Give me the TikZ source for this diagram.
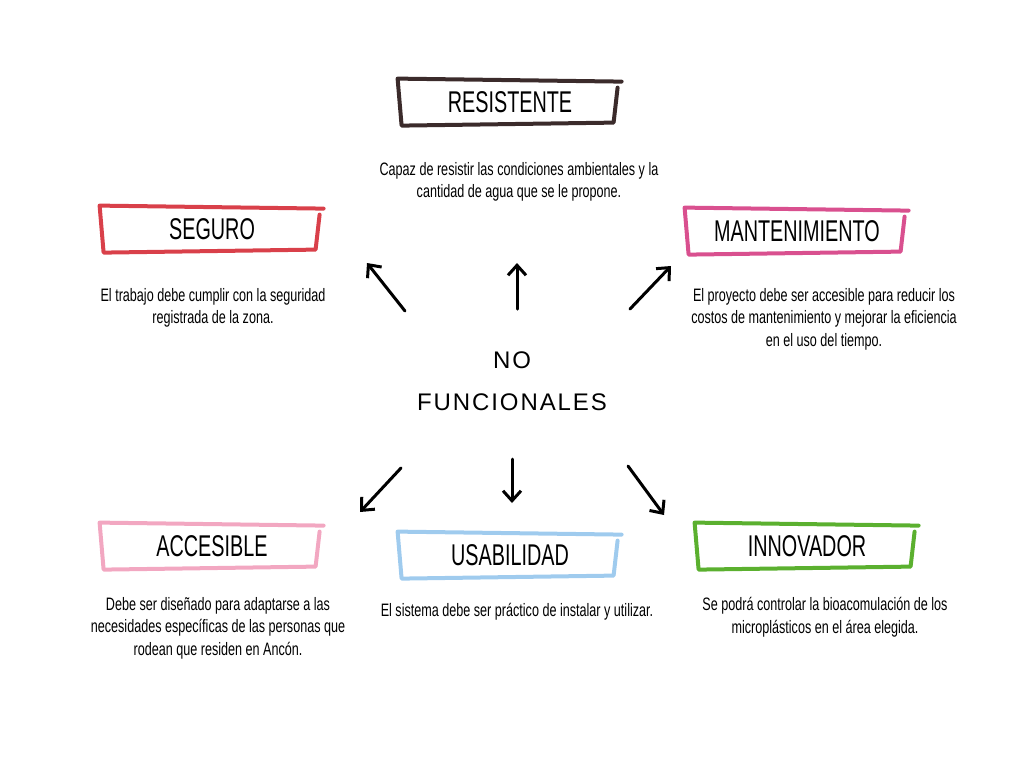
\documentclass[tikz,border=0pt]{standalone}
\usepackage{fontspec}
\setmainfont{Liberation Sans}
\newfontfamily\titlefont[FakeStretch=0.66]{Liberation Sans}
\newfontfamily\descfont[FakeStretch=0.7]{Liberation Sans}
\newfontfamily\centrofont[LetterSpace=8]{Liberation Sans}
\usetikzlibrary{arrows.meta,calc}

\definecolor{cResist}{HTML}{3B2B2B}
\definecolor{cSeguro}{HTML}{D9404A}
\definecolor{cMant}{HTML}{D9508F}
\definecolor{cAcces}{HTML}{F2A7C1}
\definecolor{cUsab}{HTML}{9FCBEE}
\definecolor{cInnov}{HTML}{5BB02F}

% hand drawn frame round a title node
\newcommand\marco[2]{%
  \draw[frame,draw=#2] ($(#1.north west)+(220,10)$) -- ($(#1.north west)+(216,45)$)
    -- ($(#1.north west)+(4,48)$) -- ($(#1.north west)+(0,1)$) -- ($(#1.north west)+(224,4)$);}

\begin{document}
\begin{tikzpicture}[
  x=0.5pt, y=-0.5pt,
  titulo/.style={minimum width=112pt, minimum height=24pt, inner sep=0pt,
                 font=\titlefont\fontsize{15}{16}\selectfont},
  desc/.style={align=center, inner sep=0pt, font=\descfont\fontsize{9}{11.25}\selectfont},
  frame/.style={line width=2pt, line cap=round, line join=round},
  flecha/.style={line width=1.5pt, line cap=round, -{Straight Barb[length=5pt,width=9pt,line width=1.5pt]}}
]
\useasboundingbox (0,0) rectangle (1024,768);

% centre
\node[align=center, font=\centrofont\fontsize{12}{21}\selectfont] (centro) at (512,381) {NO\\FUNCIONALES};

% titles
\node[titulo] (tRes) at (510,102) {RESISTENTE};
\marco{tRes}{cResist}
\node[titulo] (tSeg) at (212,229) {SEGURO};
\marco{tSeg}{cSeguro}
\node[titulo] (tMan) at (797,231) {MANTENIMIENTO};
\marco{tMan}{cMant}
\node[titulo] (tAcc) at (212,546) {ACCESIBLE};
\marco{tAcc}{cAcces}
\node[titulo] (tUsa) at (510,555) {USABILIDAD};
\marco{tUsa}{cUsab}
\node[titulo] (tInn) at (807,546) {INNOVADOR};
\marco{tInn}{cInnov}

% descriptions
\node[desc] (dRes) at (519,182) {Capaz de resistir las condiciones ambientales y la\\cantidad de agua que se le propone.};
\node[desc] (dSeg) at (213,308) {El trabajo debe cumplir con la seguridad\\registrada de la zona.};
\node[desc] (dMan) at (824,319) {El proyecto debe ser accesible para reducir los\\costos de mantenimiento y mejorar la eficiencia\\en el uso del tiempo.};
\node[desc] (dAcc) at (218,628) {Debe ser diseñado para adaptarse a las\\necesidades específicas de las personas que\\rodean que residen en Ancón.};
\node[desc] (dUsa) at (517,612) {El sistema debe ser práctico de instalar y utilizar.};
\node[desc] (dInn) at (825,617) {Se podrá controlar la bioacomulación de los\\microplásticos en el área elegida.};

% arrows
\coordinate (a1) at (405,311); \coordinate (b1) at (367,263);
\coordinate (a2) at (517,309); \coordinate (b2) at (517,263);
\coordinate (a3) at (630,309); \coordinate (b3) at (671,266);
\coordinate (a4) at (401,468); \coordinate (b4) at (360,512);
\coordinate (a5) at (512,459); \coordinate (b5) at (512,503);
\coordinate (a6) at (628,466); \coordinate (b6) at (664,515);
\draw[flecha] (a1) -- (b1);
\draw[flecha] (a2) -- (b2);
\draw[flecha] (a3) -- (b3);
\draw[flecha] (a4) -- (b4);
\draw[flecha] (a5) -- (b5);
\draw[flecha] (a6) -- (b6);
\end{tikzpicture}
\end{document}
